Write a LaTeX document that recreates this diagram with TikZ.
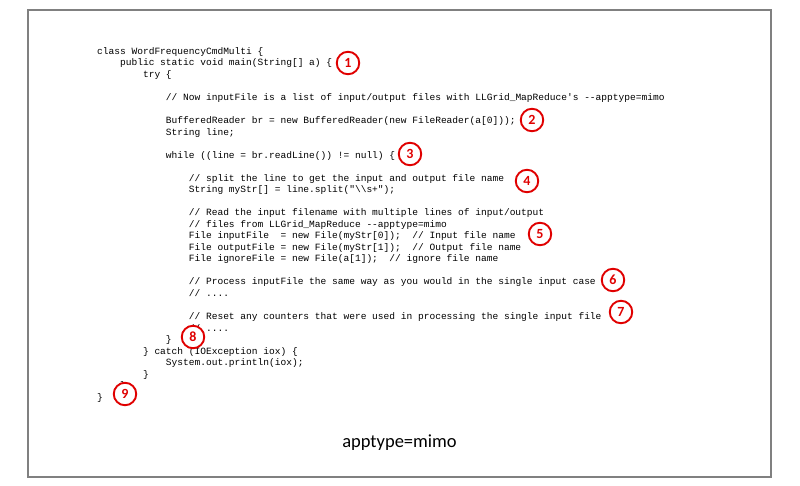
\documentclass[tikz,border=0pt]{standalone}
\usepackage{fontspec}
\setmonofont{Liberation Mono}
\newfontfamily\labelfont{Carlito}
\usepackage{xcolor}
\usepackage{tikz}
\usetikzlibrary{positioning}
\definecolor{markred}{RGB}{224,0,0}
\definecolor{framegray}{RGB}{128,128,128}
\tikzstyle{marker} = [circle,draw=markred,line width=1.9pt,fill=white,minimum size=22.5pt,inner sep=0pt,text=markred,font=\labelfont\bfseries\fontsize{14}{14}\selectfont]
\tikzstyle{code} = [anchor=base west,align=left,inner sep=0pt,font=\ttfamily\fontsize{9.55}{11.53}\selectfont]
\newcommand{\ind}[1]{\hspace*{#1\dimexpr.6em\relax}}

\begin{document}
\begin{tikzpicture}[x=1pt,y=-1pt]
	\useasboundingbox (0,0) rectangle (800,486);
	% Frame:
	\draw[framegray,line width=1.5pt] (28,10) rectangle (771,477);
	
	% The listing:
	% (base anchor sits on the last line)
	\node[code] (listing) at (97,400.2) {%
		class WordFrequencyCmdMulti \{\\
		\ind{4}public static void main(String[] a) \{\\
		\ind{8}try \{\\[11.53pt]
		\ind{12}// Now inputFile is a list of input/output files with LLGrid\_MapReduce's --apptype=mimo\\[11.53pt]
		\ind{12}BufferedReader br = new BufferedReader(new FileReader(a[0]));\\
		\ind{12}String line;\\[11.53pt]
		\ind{12}while ((line = br.readLine()) != null) \{\\[11.53pt]
		\ind{16}// split the line to get the input and output file name\\
		\ind{16}String myStr[] = line.split("\textbackslash\textbackslash s+");\\[11.53pt]
		\ind{16}// Read the input filename with multiple lines of input/output\\
		\ind{16}// files from LLGrid\_MapReduce --apptype=mimo\\
		\ind{16}File inputFile~ = new File(myStr[0]);~ // Input file name\\
		\ind{16}File outputFile = new File(myStr[1]);~ // Output file name\\
		\ind{16}File ignoreFile = new File(a[1]);~ // ignore file name\\[11.53pt]
		\ind{16}// Process inputFile the same way as you would in the single input case\\
		\ind{16}// ....\\[11.53pt]
		\ind{16}// Reset any counters that were used in processing the single input file\\
		\ind{16}// ....\\
		\ind{12}\}\\
		\ind{8}\} catch (IOException iox) \{\\
		\ind{12}System.out.println(iox);\\
		\ind{8}\}\\
		\ind{4}\}\\
		\}};
	
	% Numbered markers:
	\foreach \n/\x/\y in {1/348/63,2/532/120,3/410/154,4/527/181,5/540/234,6/613/280,7/621/312,8/193/337,9/125/394}{%
		\node[marker] (m\n) at (\x,\y) {\n};
	}
	
	\node[font=\labelfont\fontsize{18.5}{20}\selectfont,anchor=base] (caption) at (399.5,447) {apptype=mimo};
\end{tikzpicture}
\end{document}
